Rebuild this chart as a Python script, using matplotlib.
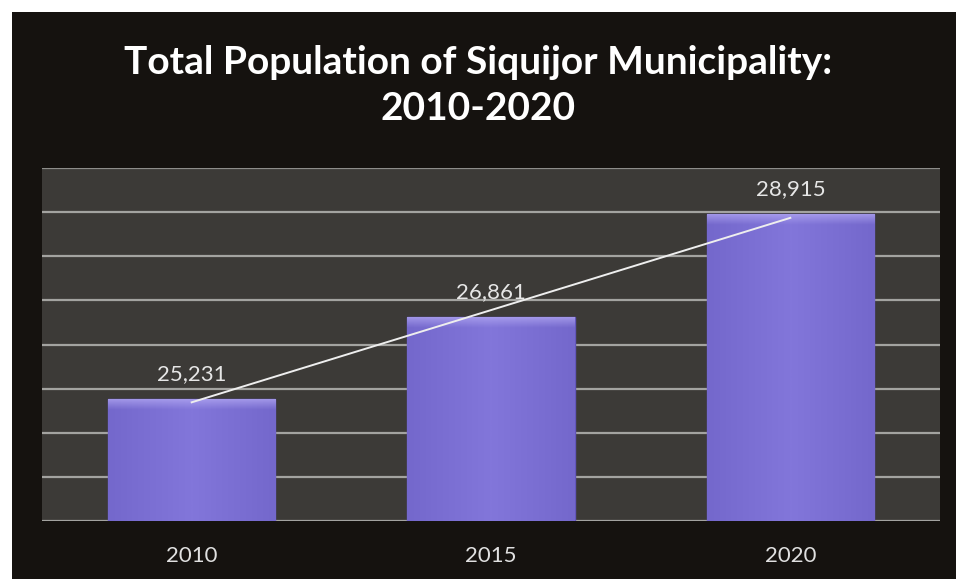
import numpy as np
import matplotlib.pyplot as plt
from matplotlib.patches import Rectangle
from matplotlib.colors import LinearSegmentedColormap

years = ['2010', '2015', '2020']
population = [25231, 26861, 28915]
value_labels = ['25,231', '26,861', '28,915']

plt.rcParams['font.family'] = ['Lato', 'DejaVu Sans']

fig = plt.figure(figsize=(9.56, 5.79), dpi=100, facecolor='white')
# dark frame of the slide
fig.patches.append(Rectangle((12 / 956, 0), 1, 1 - 12 / 579, transform=fig.transFigure,
                             facecolor='#15120f', edgecolor='none', zorder=-5))

ax = fig.add_axes([42 / 956, 58 / 579, 898 / 956, 353 / 579])
ax.set_zorder(2)
ax.set_facecolor('#3c3a37')

x = np.arange(len(years))
ymin, ymax = 22790, 29840

# gridlines
for g in np.linspace(ymin, ymax, 9)[:-1]:
    ax.axhline(g, color='#a3a3a0', lw=1.6, zorder=1)
ax.axhline(ymax, color='#8d8d8a', lw=1.6, zorder=1)

# bars with a soft bevel look
bars = ax.bar(x, population, width=0.56, color='#7d70d4',
              edgecolor='#6356bc', linewidth=1.0, zorder=2)
grad = np.linspace(0, 1, 100).reshape(1, -1)
cmap = LinearSegmentedColormap.from_list('p', ['#8276da', '#7468cc'])
top = np.linspace(1, 0, 50).reshape(-1, 1)
cmap_top = LinearSegmentedColormap.from_list('t', [(0.70, 0.66, 0.95, 0.0), (0.72, 0.68, 0.96, 0.75)])
for b in bars:
    x0, w, h = b.get_x(), b.get_width(), b.get_height()
    im = ax.imshow(np.abs(grad - 0.5), extent=(x0, x0 + w, ymin, h), aspect='auto',
                   cmap=cmap, zorder=3)
    im.set_clip_path(b)
    im2 = ax.imshow(top, extent=(x0, x0 + w, h - 220, h), aspect='auto',
                    cmap=cmap_top, zorder=4)
    im2.set_clip_path(b)
ax.set_xlim(-0.5, 2.5)
ax.set_ylim(ymin, ymax)

# linear trend line
coef = np.polyfit(x, population, 1)
ax.plot(x, np.polyval(coef, x), color='#eeeeee', lw=1.4, zorder=5)

for xi, v, lab in zip(x, population, value_labels):
    ax.text(xi, v + 300, lab, ha='center', va='bottom', color='#e6e6e6',
            fontsize=16, zorder=6)

ax.set_xticks(x)
ax.set_xticklabels(years, color='#e0e0e0', fontsize=16)
ax.tick_params(axis='x', length=0, pad=18)
ax.set_yticks([])
for s in ax.spines.values():
    s.set_visible(False)

fig.text(0.5, 0.892, 'Total Population of Siquijor Municipality:', ha='center', va='center',
         color='white', fontsize=28, fontweight='bold')
fig.text(0.5, 0.812, '2010-2020', ha='center', va='center',
         color='white', fontsize=28, fontweight='bold')

fig.savefig('out.png', dpi=100, facecolor=fig.get_facecolor())
